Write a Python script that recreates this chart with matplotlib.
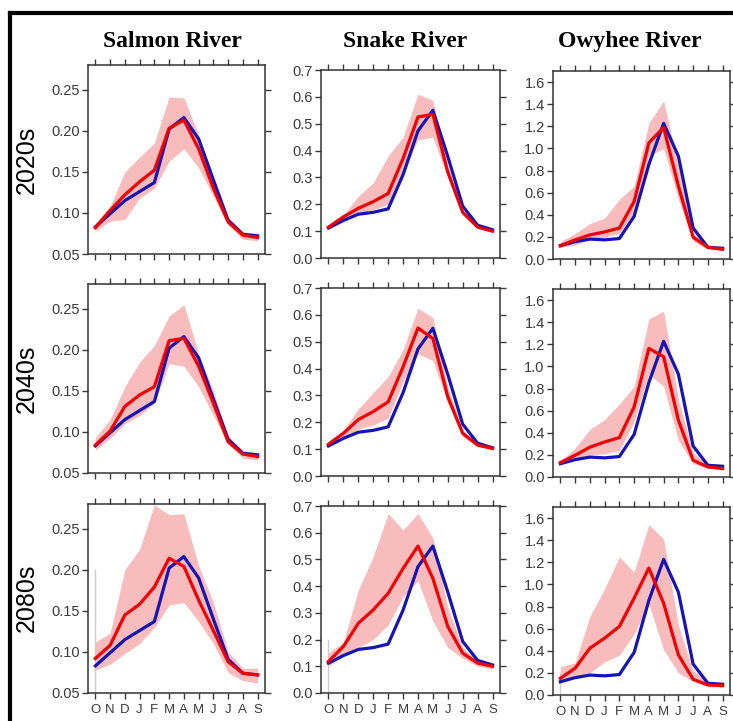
import numpy as np
import matplotlib
matplotlib.use("Agg")
import matplotlib.pyplot as plt
from matplotlib.lines import Line2D

# months Oct..Sep (water year)
months = ['O', 'N', 'D', 'J', 'F', 'M', 'A', 'M', 'J', 'J', 'A', 'S']
rivers = ['Salmon River', 'Snake River', 'Owyhee River']
periods = ['2020s', '2040s', '2080s']

# historical (blue), same in every row
salmon_hist = [0.083, 0.099, 0.115, 0.126, 0.137, 0.202, 0.216, 0.190, 0.140, 0.091, 0.074, 0.072]
snake_hist = [0.112, 0.140, 0.163, 0.170, 0.183, 0.310, 0.473, 0.550, 0.378, 0.193, 0.122, 0.105]
owyhee_hist = [0.120, 0.157, 0.180, 0.173, 0.185, 0.385, 0.855, 1.227, 0.930, 0.280, 0.106, 0.097]

# future ensemble mean (red) and range (pink)
salmon_2020s = [0.082, 0.103, 0.122, 0.138, 0.152, 0.203, 0.213, 0.178, 0.130, 0.089, 0.073, 0.070]
salmon_2020s_lo = [0.078, 0.090, 0.092, 0.118, 0.130, 0.163, 0.178, 0.155, 0.120, 0.085, 0.068, 0.066]
salmon_2020s_hi = [0.087, 0.108, 0.150, 0.168, 0.185, 0.241, 0.240, 0.195, 0.145, 0.095, 0.077, 0.075]
salmon_2040s = [0.084, 0.101, 0.131, 0.145, 0.155, 0.211, 0.214, 0.180, 0.135, 0.088, 0.073, 0.070]
salmon_2040s_lo = [0.078, 0.092, 0.110, 0.120, 0.135, 0.183, 0.180, 0.155, 0.120, 0.085, 0.068, 0.066]
salmon_2040s_hi = [0.093, 0.115, 0.155, 0.185, 0.205, 0.241, 0.255, 0.195, 0.150, 0.095, 0.077, 0.075]
salmon_2080s = [0.092, 0.108, 0.145, 0.158, 0.179, 0.214, 0.204, 0.163, 0.126, 0.088, 0.074, 0.072]
salmon_2080s_lo = [0.078, 0.085, 0.098, 0.110, 0.130, 0.157, 0.160, 0.137, 0.110, 0.075, 0.065, 0.062]
salmon_2080s_hi = [0.112, 0.123, 0.200, 0.225, 0.279, 0.267, 0.268, 0.205, 0.160, 0.100, 0.080, 0.080]

snake_2020s = [0.115, 0.153, 0.185, 0.210, 0.240, 0.370, 0.525, 0.535, 0.320, 0.170, 0.115, 0.100]
snake_2020s_lo = [0.105, 0.135, 0.165, 0.180, 0.200, 0.320, 0.440, 0.450, 0.300, 0.160, 0.110, 0.095]
snake_2020s_hi = [0.122, 0.160, 0.230, 0.280, 0.380, 0.450, 0.610, 0.587, 0.340, 0.175, 0.120, 0.105]
snake_2040s = [0.118, 0.159, 0.210, 0.240, 0.276, 0.406, 0.551, 0.512, 0.295, 0.159, 0.115, 0.103]
snake_2040s_lo = [0.110, 0.140, 0.175, 0.190, 0.215, 0.350, 0.455, 0.430, 0.270, 0.145, 0.110, 0.095]
snake_2040s_hi = [0.130, 0.170, 0.250, 0.310, 0.370, 0.470, 0.625, 0.590, 0.330, 0.170, 0.120, 0.105]
snake_2080s = [0.118, 0.174, 0.261, 0.311, 0.373, 0.466, 0.550, 0.429, 0.249, 0.149, 0.112, 0.100]
snake_2080s_lo = [0.100, 0.140, 0.170, 0.200, 0.255, 0.360, 0.420, 0.270, 0.170, 0.130, 0.100, 0.090]
snake_2080s_hi = [0.150, 0.190, 0.385, 0.510, 0.672, 0.610, 0.672, 0.580, 0.320, 0.170, 0.120, 0.105]

owyhee_2020s = [0.120, 0.173, 0.218, 0.245, 0.280, 0.520, 1.050, 1.190, 0.660, 0.197, 0.106, 0.088]
owyhee_2020s_lo = [0.106, 0.127, 0.173, 0.197, 0.233, 0.415, 0.930, 1.000, 0.540, 0.158, 0.088, 0.076]
owyhee_2020s_hi = [0.158, 0.230, 0.320, 0.370, 0.540, 0.660, 1.230, 1.430, 0.840, 0.230, 0.127, 0.106]
owyhee_2040s = [0.130, 0.196, 0.270, 0.317, 0.356, 0.634, 1.163, 1.088, 0.514, 0.151, 0.091, 0.076]
owyhee_2040s_lo = [0.120, 0.160, 0.200, 0.210, 0.240, 0.500, 0.930, 0.820, 0.330, 0.120, 0.080, 0.070]
owyhee_2040s_hi = [0.145, 0.260, 0.430, 0.520, 0.660, 0.820, 1.430, 1.500, 0.700, 0.220, 0.115, 0.100]
owyhee_2080s = [0.151, 0.242, 0.423, 0.514, 0.620, 0.876, 1.148, 0.830, 0.363, 0.142, 0.091, 0.085]
owyhee_2080s_lo = [0.120, 0.170, 0.200, 0.300, 0.360, 0.550, 0.820, 0.410, 0.200, 0.120, 0.080, 0.070]
owyhee_2080s_hi = [0.257, 0.290, 0.710, 0.960, 1.250, 1.110, 1.540, 1.410, 0.630, 0.220, 0.120, 0.100]

hist = [salmon_hist, snake_hist, owyhee_hist]
future = [
    [(salmon_2020s, salmon_2020s_lo, salmon_2020s_hi),
     (snake_2020s, snake_2020s_lo, snake_2020s_hi),
     (owyhee_2020s, owyhee_2020s_lo, owyhee_2020s_hi)],
    [(salmon_2040s, salmon_2040s_lo, salmon_2040s_hi),
     (snake_2040s, snake_2040s_lo, snake_2040s_hi),
     (owyhee_2040s, owyhee_2040s_lo, owyhee_2040s_hi)],
    [(salmon_2080s, salmon_2080s_lo, salmon_2080s_hi),
     (snake_2080s, snake_2080s_lo, snake_2080s_hi),
     (owyhee_2080s, owyhee_2080s_lo, owyhee_2080s_hi)],
]

yticks = [np.arange(0.05, 0.26, 0.05), np.arange(0.0, 0.71, 0.1), np.arange(0.0, 1.61, 0.2)]
yfmt = ['%.2f', '%.1f', '%.1f']
ylims = [(0.05, 0.28), (0.0, 0.70), (0.0, 1.70)]

W, H = 733, 721
fig = plt.figure(figsize=(W / 100, H / 100), dpi=100)
fig.patch.set_facecolor('white')

# panel boxes in pixels: left, top, right, bottom
lefts = [88, 321, 553]
rights = [265, 500, 730]
tops = [[65, 70, 71], [284, 288, 289], [504, 506, 507]]
bottoms = [[254, 258, 259], [473, 476, 477], [693, 693, 695]]

tick_col = '#3a3a3a'
x = np.arange(12)

for r in range(3):
    for c in range(3):
        l, rt = lefts[c], rights[c]
        t, b = tops[r][c], bottoms[r][c]
        ax = fig.add_axes([l / W, 1 - b / H, (rt - l) / W, (b - t) / H])
        mean, lo, hi = future[r][c]
        ax.fill_between(x, lo, hi, color='#f9bcbc', lw=0, zorder=1)
        ax.plot(x, hist[c], color='#1515b5', lw=2.3, zorder=3)
        ax.plot(x, mean, color='#f00000', lw=2.3, zorder=4)
        if r == 2:
            ax.plot([0, 0], [ylims[c][0], 0.2], color='#cccccc', lw=1.0, zorder=0)
        ax.set_xlim(-0.5, 11.5)
        ax.set_ylim(*ylims[c])
        ax.set_xticks(x)
        ax.set_yticks(yticks[c])
        ax.set_yticklabels([yfmt[c] % v for v in yticks[c]])
        if r == 2:
            ax.set_xticklabels(months)
        else:
            ax.set_xticklabels([])
        ax.tick_params(direction='out', length=4, width=1, colors=tick_col,
                       labelsize=10.5, top=True, right=True, pad=2)
        ax.tick_params(axis='x', pad=4, labelsize=9.5)
        for lab in ax.get_xticklabels() + ax.get_yticklabels():
            lab.set_fontfamily('Liberation Sans')
        for s in ax.spines.values():
            s.set_color('#333333')
            s.set_linewidth(1.1)

# column titles
title_x = [172, 405, 630]
for c in range(3):
    fig.text(title_x[c] / W, 1 - 47 / H, rivers[c], ha='center', va='baseline',
             fontsize=17, fontweight='bold', family='Liberation Serif')

# row labels
row_y = [160, 379, 598]
for r in range(3):
    fig.text(27 / W, 1 - row_y[r] / H, periods[r], ha='center', va='center',
             rotation=90, fontsize=18, family='Liberation Sans')

# outer black frame (cut off at right and bottom)
fig.add_artist(Line2D([10 / W, 10 / W], [0, 1 - 13 / H], color='black', lw=3,
                      transform=fig.transFigure))
fig.add_artist(Line2D([10 / W, 1], [1 - 13 / H, 1 - 13 / H], color='black', lw=3,
                      transform=fig.transFigure))

fig.savefig('out.png', dpi=100)
